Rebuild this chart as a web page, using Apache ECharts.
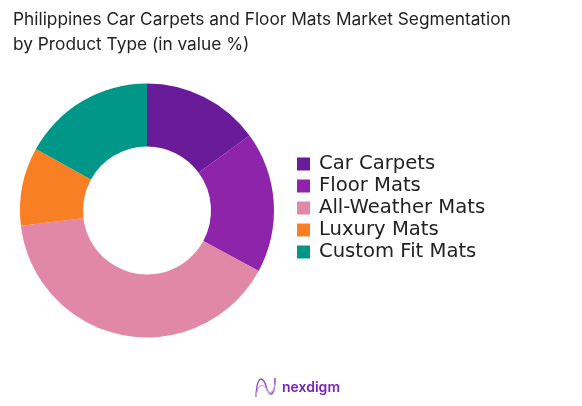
<!DOCTYPE html>
<html style="height: 100%">
<head>
<meta charset="utf-8">
<script src="https://cdn.jsdelivr.net/npm/echarts@6/dist/echarts.min.js"></script>
</head>
<body style="height: 100%; margin: 0; background: #fff">
<div id="container" style="width: 582px; height: 406px"></div>
<script>
var categories = ['Car Carpets', 'Floor Mats', 'All-Weather Mats', 'Luxury Mats', 'Custom Fit Mats'];
var values = [15, 18, 40.3, 10, 17];
var colors = ['#6a1b9a', '#8e24aa', '#e088a5', '#f97f25', '#009688'];

// logo mark, two strands
function strand(x1, y1, cx1, cy1, cx2, cy2, x2, y2, color, w) {
    return {
        type: 'bezierCurve',
        shape: { x1: x1, y1: y1, cpx1: cx1, cpy1: cy1, cpx2: cx2, cpy2: cy2, x2: x2, y2: y2 },
        style: { fill: 'none', stroke: color, lineWidth: w }
    };
}

var chart = echarts.init(document.getElementById('container'));
chart.setOption({
    animation: false,
    color: colors,
    title: {
        text: 'Philippines Car Carpets and Floor Mats Market Segmentation\nby Product Type (in value %)',
        left: 8,
        top: 2,
        textStyle: {
            fontFamily: 'Inter',
            fontWeight: 400,
            fontSize: 17.3,
            lineHeight: 25,
            color: '#222'
        }
    },
    legend: {
        orient: 'vertical',
        left: 292,
        top: 149,
        icon: 'rect',
        itemWidth: 13,
        itemHeight: 13,
        itemGap: 2,
        data: categories,
        textStyle: {
            fontFamily: '"DejaVu Sans", Verdana, sans-serif',
            fontSize: 19.6,
            lineHeight: 18,
            color: '#222',
            padding: [0, 0, 0, 4]
        }
    },
    series: [{
        type: 'pie',
        center: [147, 210.5],
        radius: [64, 127],
        startAngle: 90,
        label: { show: false },
        labelLine: { show: false },
        data: categories.map(function (name, i) {
            return { name: name, value: values[i] };
        })
    }],
    graphic: [
        {
            type: 'text',
            left: 282,
            top: 381,
            style: {
                text: 'nexdigm',
                fontFamily: 'Inter',
                fontWeight: 600,
                fontSize: 14,
                fill: '#7b22b8'
            }
        },
        strand(256, 397, 257, 372, 264, 378, 266, 386, '#8e44c8', 1.4),
        strand(266, 386, 268, 396, 275, 400, 275, 378, '#8e44c8', 1.4),
        strand(256, 397, 258, 382, 264, 384, 267, 390, '#d0a8e8', 1.2),
        strand(267, 390, 269, 396, 274, 392, 275, 384, '#d0a8e8', 1.2)
    ]
});
</script>
</body>
</html>
